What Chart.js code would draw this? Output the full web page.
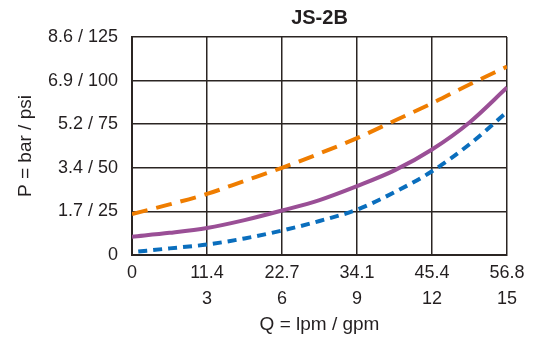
<!DOCTYPE html>
<html>
<head>
<meta charset="utf-8">
<script src="https://cdn.jsdelivr.net/npm/chart.js@4/dist/chart.umd.min.js"></script>
<style>
  html, body { margin: 0; padding: 0; background: #ffffff; }
  #wrap { width: 546px; height: 343px; position: relative; }
</style>
</head>
<body>
<div id="wrap"><canvas id="c" width="546" height="343"></canvas></div>
<script>
// Flow in gpm, pressure in psi
const titleText = 'JS-2B';
const xTickValuesGpm = [0, 3, 6, 9, 12, 15];
const xTickLabelsLpm = ['0', '11.4', '22.7', '34.1', '45.4', '56.8'];
const xTickLabelsGpm = ['', '3', '6', '9', '12', '15'];
const yTickValuesPsi = [0, 25, 50, 75, 100, 125];
const yTickLabels = ['0', '1.7 / 25', '3.4 / 50', '5.2 / 75', '6.9 / 100', '8.6 / 125'];

const orangeGpm = [0, 1.5, 3, 4.5, 6, 7.5, 9, 10.5, 12, 13.5, 15];
const orangePsi = [23.5, 29, 35, 42.5, 50, 58.2, 67, 77, 87, 97.8, 108];

const purpleGpm = [0, 1.5, 3, 4.5, 6, 7.5, 9, 10.5, 12, 13.5, 15];
const purplePsi = [10.5, 12.7, 15.5, 20, 25.5, 31.5, 39.5, 48.5, 60.5, 76, 96];

const blueGpm = [0.25, 1.5, 3, 4.5, 6, 7.5, 9, 10.5, 12, 13.5, 15];
const bluePsi = [2, 3.8, 6, 9.5, 14, 19.5, 26, 36, 48, 63.5, 82];

const pts = (xs, ys) => xs.map((x, i) => ({ x: x, y: ys[i] }));
const FONT = 'Liberation Sans, Arial, Helvetica, sans-serif';
const INK = '#231f20';
const GRID = '#2b2523';

new Chart(document.getElementById('c'), {
  type: 'line',
  data: {
    datasets: [
      { data: pts(orangeGpm, orangePsi), borderColor: '#ef7d00', borderWidth: 4, borderDash: [16, 9], borderCapStyle: 'butt', pointRadius: 0, cubicInterpolationMode: 'monotone', fill: false },
      { data: pts(purpleGpm, purplePsi), borderColor: '#9a4f96', borderWidth: 4, pointRadius: 0, cubicInterpolationMode: 'monotone', fill: false },
      { data: pts(blueGpm, bluePsi), borderColor: '#0a6ebd', borderWidth: 4, borderDash: [9, 6], borderCapStyle: 'butt', pointRadius: 0, cubicInterpolationMode: 'monotone', fill: false }
    ]
  },
  options: {
    responsive: false,
    animation: false,
    devicePixelRatio: 1,
    layout: { padding: { left: 0, right: 39, top: 0, bottom: 0 } },
    plugins: {
      legend: { display: false },
      tooltip: { enabled: false },
      title: {
        display: true,
        fullSize: false,
        text: titleText,
        color: INK,
        font: { family: FONT, size: 20, weight: 'bold', lineHeight: 1.2 },
        padding: { top: 6.7, bottom: 6.3 }
      }
    },
    scales: {
      x: {
        type: 'linear',
        min: 0, max: 15,
        afterBuildTicks: (s) => { s.ticks = xTickValuesGpm.map(v => ({ value: v })); },
        afterFit: (s) => { s.height = 88; },
        ticks: {
          padding: 5,
          color: INK,
          maxRotation: 0,
          autoSkip: false,
          font: { family: FONT, size: 18, lineHeight: '26px' },
          callback: (v) => {
            const i = xTickValuesGpm.indexOf(v);
            return i < 0 ? '' : [xTickLabelsLpm[i], xTickLabelsGpm[i]];
          }
        },
        grid: { color: GRID, lineWidth: 1.5, drawTicks: false },
        border: { color: GRID, width: 2 },
        title: {
          display: true,
          text: 'Q = lpm / gpm',
          color: INK,
          font: { family: FONT, size: 19, lineHeight: 1.2 },
          padding: { top: 0, bottom: 6.5 }
        }
      },
      y: {
        type: 'linear',
        min: 0, max: 125,
        afterBuildTicks: (s) => { s.ticks = yTickValuesPsi.map(v => ({ value: v })); },
        afterFit: (s) => { s.width = 132; },
        ticks: {
          padding: 14,
          color: INK,
          font: { family: FONT, size: 18 },
          callback: (v) => {
            const i = yTickValuesPsi.indexOf(v);
            return i < 0 ? '' : yTickLabels[i];
          }
        },
        grid: { color: GRID, lineWidth: 1.5, drawTicks: false },
        border: { color: GRID, width: 2 },
        title: {
          display: true,
          text: 'P = bar / psi',
          color: INK,
          font: { family: FONT, size: 19, lineHeight: 1.2 },
          padding: { top: 14, bottom: 0 }
        }
      }
    }
  }
});
</script>
</body>
</html>
